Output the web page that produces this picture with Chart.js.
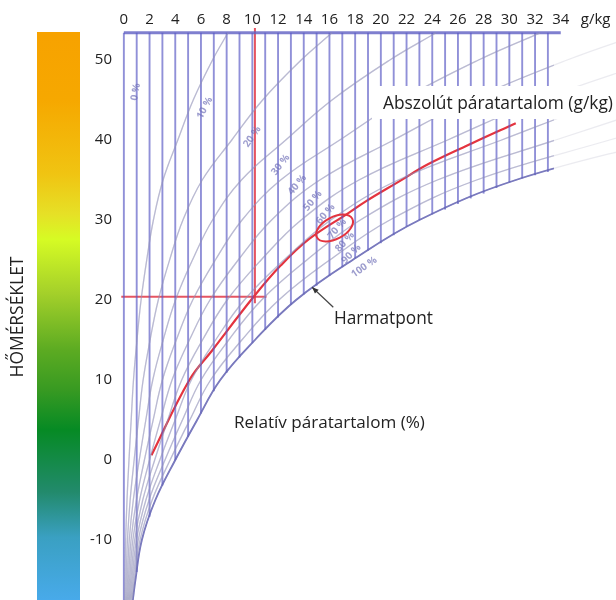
<!DOCTYPE html>
<html><head><meta charset="utf-8">
<script src="https://cdn.jsdelivr.net/npm/chart.js@4/dist/chart.umd.min.js"></script>
<style>html,body{margin:0;padding:0;background:#fff}#wrap{width:616px;height:600px;position:relative}</style>
</head><body><div id="wrap"><canvas id="c"></canvas></div>
<script>
// ---- data ----
const X_TICKS = [0,2,4,6,8,10,12,14,16,18,20,22,24,26,28,30,32,34];
const Y_TICKS = [-10,0,10,20,30,40,50];
const T_NODES = [-17.5,-15,-10,-5,0,5,10,15,20,25,30,35,40,45,50,53.4];
const RH_10  = [0.07,0.09,0.14,0.245,0.40,0.57,0.75,1.02,1.34,1.78,2.30,3.05,4.2,5.4,6.9,8.1];
const RH_20  = [0.14,0.18,0.28,0.49,0.80,1.14,1.50,2.04,2.68,3.56,4.60,6.10,8.4,10.8,13.8,16.2];
const RH_30  = [0.21,0.27,0.42,0.735,1.20,1.71,2.25,3.06,4.02,5.34,6.90,9.15,12.6,16.2,20.7,24.3];
const RH_40  = [0.28,0.36,0.56,0.98,1.60,2.28,3.00,4.08,5.36,7.12,9.20,12.2,16.8,21.6,27.6,32.4];
const RH_50  = [0.35,0.45,0.70,1.225,2.00,2.85,3.75,5.10,6.70,8.90,11.5,15.25,21.0,27.0,34.5,40.5];
const RH_60  = [0.42,0.54,0.84,1.47,2.40,3.42,4.50,6.12,8.04,10.68,13.8,18.3,25.2,32.4,41.4];
const RH_70  = [0.49,0.63,0.98,1.715,2.80,3.99,5.25,7.14,9.38,12.46,16.1,21.35,29.4,37.8,48.3];
const RH_80  = [0.56,0.72,1.12,1.96,3.20,4.56,6.00,8.16,10.72,14.24,18.4,24.4,33.6,43.2];
const RH_90  = [0.63,0.81,1.26,2.205,3.60,5.13,6.75,9.18,12.06,16.02,20.7,27.45,37.8,48.6];
const RH_100 = [0.70,0.90,1.40,2.45,4.00,5.70,7.50,10.2,13.4,17.8,23.0,30.5,42.0];
const RH_SERIES = [RH_10,RH_20,RH_30,RH_40,RH_50,RH_60,RH_70,RH_80,RH_90,RH_100];
// dew point temperature where each g/kg line meets the 100 % curve (k = 0..33)
const DEW_T = [-17.5,-14.0,-7.1,-3.2,0,2.9,5.8,8.6,10.9,12.8,14.6,16.25,17.8,19.4,20.7,21.8,23.0,24.1,25.2,26.2,27.1,28.1,29.2,30.0,30.7,31.3,32.0,32.7,33.3,34.0,34.7,35.2,35.6,36.0];
const GRID_TOP_T = 53.4;
const GRID_TOP_X_END = 34;
const RED_X = [2.15,5.1,6.9,10.1,12.2,14.4,17.5,18.8,21.4,23.7,27.1,30.5];
const RED_T = [0.6,10.0,13.75,20.4,24.3,27.6,30.9,32.3,34.8,37.0,39.6,42.1];
const CROSS_X = 10.2, CROSS_T = 20.4, CROSS_X_START = -0.2, CROSS_X_END = 11.1, CROSS_T_END = 19.6;
const RH_LABELS = ['0 %','10 %','20 %','30 %','40 %','50 %','60 %','70 %','80 %','90 %','100 %'];

// ---- build datasets ----
const X_MIN=-0.3, X_MAX=38.3, Y_MIN=-17.5, Y_MAX=54;
const pts = (xs, ts) => xs.map((x,i)=>({x:x, y:ts[i]}));
const datasets = [];
// faint full-length curves
RH_SERIES.forEach((s,i)=>{
  datasets.push({data:pts(s,T_NODES), borderColor:'rgba(175,175,195,0.25)', borderWidth:1.3,
    pointRadius:0, showLine:true, tension:0.4, fill:false});
});
// stronger curves inside the grid
RH_SERIES.forEach((s,i)=>{
  const last = i===RH_SERIES.length-1;
  datasets.push({data:pts(s,T_NODES), borderColor: last?'rgba(80,80,175,0.85)':'rgba(125,125,178,0.5)',
    borderWidth:last?1.8:1.3, pointRadius:0, showLine:true, tension:0.4, fill:false,
    clip:{left:0, top:0, right:-62, bottom:0}});
});
// vertical g/kg lines
DEW_T.forEach((t,k)=>{
  datasets.push({data:[{x:k,y:t},{x:k,y:GRID_TOP_T}], borderColor:'rgba(92,92,198,0.68)', borderWidth:1.9,
    pointRadius:0, showLine:true, fill:false});
});
// top line
datasets.push({data:[{x:0,y:GRID_TOP_T},{x:GRID_TOP_X_END,y:GRID_TOP_T}], borderColor:'rgba(95,95,195,0.8)', borderWidth:3,
  pointRadius:0, showLine:true, fill:false});
// red lines
datasets.push({data:[{x:CROSS_X,y:Y_MAX},{x:CROSS_X,y:CROSS_T_END}], borderColor:'rgba(225,55,70,0.85)', borderWidth:2, pointRadius:0, showLine:true});
datasets.push({data:[{x:CROSS_X_START,y:CROSS_T},{x:CROSS_X_END,y:CROSS_T}], borderColor:'rgba(225,55,70,0.85)', borderWidth:2, pointRadius:0, showLine:true});
datasets.push({data:pts(RED_X,RED_T), borderColor:'#e4343f', borderWidth:2.2, pointRadius:0, showLine:true, tension:0.4});

const FONT = '"Open Sans", sans-serif';

const decor = {
  id:'decor',
  beforeDraw(chart){
    const c = chart.ctx;
    c.save();
    const g = c.createLinearGradient(0,32,0,600);
    [[0,'#f7a200'],[0.12,'#f6a800'],[0.25,'#f0c412'],[0.32,'#e6e026'],[0.365,'#d6fb24'],[0.46,'#a4d02a'],
     [0.56,'#5cab22'],[0.63,'#389a22'],[0.70,'#068a24'],[0.81,'#228a6c'],[0.89,'#3aa0c2'],[1,'#48aaea']]
      .forEach(s=>g.addColorStop(s[0],s[1]));
    c.fillStyle = g;
    c.fillRect(37,32,43,568);
    // axis title
    c.translate(18,317);
    c.rotate(-Math.PI/2);
    c.fillStyle='#222';
    c.font = '15px '+FONT;
    const w = c.measureText('HŐMÉRSÉKLET').width;
    c.font = (15*121/w).toFixed(2)+'px '+FONT;
    c.textAlign='center'; c.textBaseline='middle';
    c.fillText('HŐMÉRSÉKLET',0,0);
    c.restore();
  },
  afterDatasetsDraw(chart){
    const c = chart.ctx, xs = chart.scales.x, ys = chart.scales.y;
    const px = v=>xs.getPixelForValue(v), py = v=>ys.getPixelForValue(v);
    c.save();
    // rh labels
    const LX=[0.93,6.3,10.0,12.2,13.5,14.7,15.7,16.6,17.2,17.7,18.7];
    const LT=[46,44,40.4,36.9,34.4,32.4,30.75,28.9,27.25,25.75,24.1];
    const LR=[-80,-62,-55,-52,-50,-50,-50,-50,-48,-45,-35];
    c.font = 'bold 10px '+FONT;
    c.fillStyle='rgba(115,115,185,0.7)';
    c.textAlign='center'; c.textBaseline='middle';
    RH_LABELS.forEach((t,i)=>{
      c.save(); c.translate(px(LX[i]),py(LT[i])); c.rotate(LR[i]*Math.PI/180); c.fillText(t,0,0); c.restore();
    });
    // red ellipse
    c.strokeStyle='#e4343f'; c.lineWidth=2;
    c.beginPath(); c.ellipse(px(16.4),py(29),20,11,-28*Math.PI/180,0,Math.PI*2); c.stroke();
    // label box
    c.fillStyle='#fff';
    c.fillRect(372,86,244,33);
    c.fillStyle='#222';
    c.textAlign='left'; c.textBaseline='alphabetic';
    const fit=(txt,x,y,w)=>{ let s=15; c.font=s+'px '+FONT; const m=c.measureText(txt).width; s=15*w/m; c.font=s.toFixed(2)+'px '+FONT; c.fillText(txt,x,y); };
    fit('Abszolút páratartalom (g/kg)',383,109,230);
    fit('Relatív páratartalom (%)',234,428,191);
    fit('Harmatpont',334,324,99);
    // arrow
    const ax=px(14.65), ay=py(21.6);
    c.strokeStyle='#444'; c.lineWidth=1.2;
    c.beginPath(); c.moveTo(ax,ay); c.lineTo(px(16.3),py(19.1)); c.stroke();
    c.fillStyle='#333';
    const ang=Math.atan2(py(19.1)-ay, px(16.3)-ax);
    c.beginPath(); c.moveTo(ax,ay);
    c.lineTo(ax+7*Math.cos(ang-0.4), ay+7*Math.sin(ang-0.4));
    c.lineTo(ax+7*Math.cos(ang+0.4), ay+7*Math.sin(ang+0.4)); c.closePath(); c.fill();
    // unit
    c.font='15px '+FONT; c.fillStyle='#222'; c.textBaseline='middle';
    c.fillText('g/kg', px(34)+20, 20);
    c.restore();
  }
};

const noPad = s => { s.paddingTop=0; s.paddingBottom=0; s.paddingLeft=0; s.paddingRight=0; };

new Chart(document.getElementById('c'), {
  type:'scatter',
  data:{datasets},
  options:{
    responsive:true, maintainAspectRatio:false, animation:false,
    layout:{padding:0},
    plugins:{legend:{display:false}, tooltip:{enabled:false}},
    scales:{
      x:{type:'linear', position:'top', min:X_MIN, max:X_MAX,
        grid:{display:false, drawTicks:false}, border:{display:false},
        afterBuildTicks:s=>{s.ticks=X_TICKS.map(v=>({value:v}));},
        afterFit:s=>{s.height=28; noPad(s);},
        ticks:{padding:-1, color:'#222', font:{family:FONT, size:15}, maxRotation:0, autoSkip:false}},
      y:{type:'linear', min:Y_MIN, max:Y_MAX,
        grid:{display:false, drawTicks:false}, border:{display:false},
        afterBuildTicks:s=>{s.ticks=Y_TICKS.map(v=>({value:v}));},
        afterFit:s=>{s.width=120; noPad(s);},
        ticks:{padding:8, color:'#222', font:{family:FONT, size:15}, autoSkip:false}}
    }
  },
  plugins:[decor]
});
</script></body></html>
